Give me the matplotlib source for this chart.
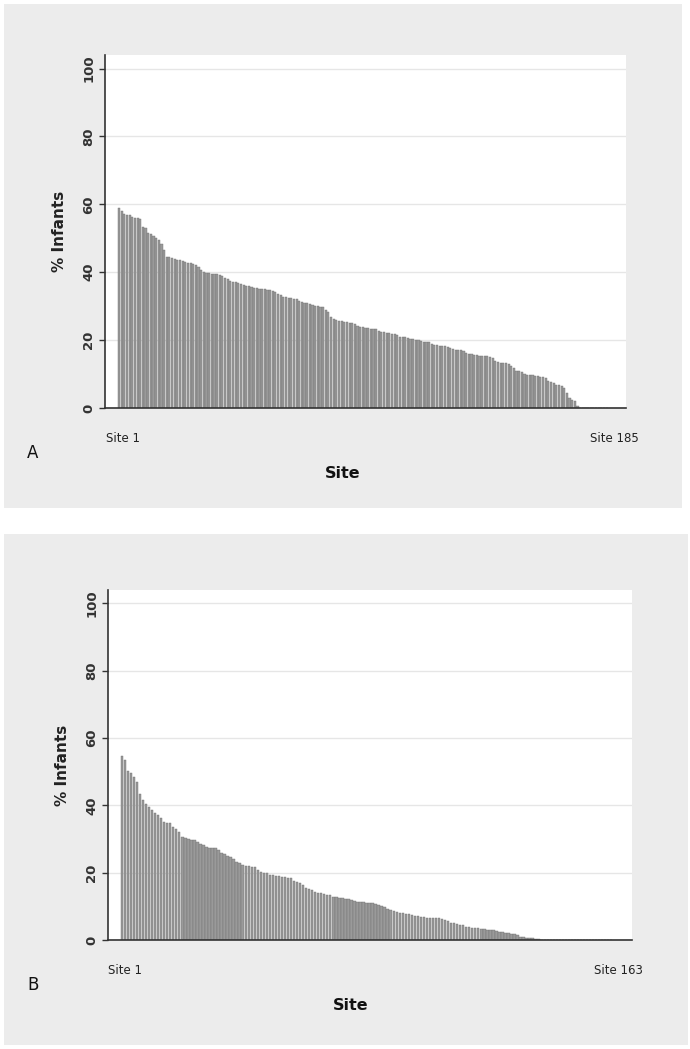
import matplotlib
matplotlib.use('Agg')
import matplotlib.pyplot as plt
import matplotlib.transforms as mtransforms
from matplotlib.patches import Rectangle

# % of infants per site, sorted high to low
pct_a = [59.0, 58.0, 57.3, 57.0, 56.8, 56.2, 56.1, 56.0, 55.6, 53.3,
         52.9, 51.6, 51.2, 50.8, 50.2, 49.5, 48.4, 46.5, 44.6, 44.5,
         44.3, 44.0, 43.7, 43.5, 43.3, 43.1, 42.8, 42.6, 42.4, 42.2,
         41.6, 40.6, 40.2, 39.8, 39.7, 39.6, 39.6, 39.5, 39.2, 38.9,
         38.3, 38.0, 37.5, 37.2, 37.0, 36.8, 36.4, 36.2, 36.0, 35.8,
         35.6, 35.4, 35.3, 35.2, 35.1, 35.0, 34.9, 34.8, 34.5, 34.1,
         33.6, 33.2, 32.8, 32.6, 32.5, 32.3, 32.2, 32.0, 31.6, 31.2,
         31.0, 30.9, 30.7, 30.3, 30.1, 30.0, 29.9, 29.7, 29.0, 28.2,
         26.8, 26.2, 25.9, 25.7, 25.6, 25.4, 25.2, 25.0, 24.9, 24.7,
         24.2, 23.9, 23.8, 23.7, 23.5, 23.4, 23.3, 23.2, 22.7, 22.4,
         22.3, 22.2, 22.0, 21.9, 21.8, 21.4, 21.0, 20.9, 20.8, 20.5,
         20.3, 20.2, 20.1, 20.0, 19.7, 19.5, 19.4, 19.3, 18.9, 18.6,
         18.5, 18.4, 18.3, 18.2, 18.1, 17.6, 17.3, 17.2, 17.1, 17.0,
         16.8, 16.1, 15.9, 15.8, 15.6, 15.5, 15.4, 15.3, 15.3, 15.2,
         15.1, 14.8, 13.8, 13.5, 13.4, 13.3, 13.2, 13.0, 12.4, 11.8,
         11.0, 10.9, 10.7, 10.1, 9.8, 9.7, 9.6, 9.5, 9.4, 9.2,
         9.0, 8.8, 8.0, 7.7, 7.5, 6.9, 6.8, 6.6, 5.8, 4.5,
         3.0, 2.4, 2.0, 0.6] + [0.0] * 11

pct_b = [54.7, 53.4, 50.2, 49.6, 48.5, 47.0, 43.5, 41.5, 40.4, 39.4,
         38.6, 37.8, 37.1, 36.4, 35.1, 34.9, 34.8, 33.6, 33.1, 32.1,
         30.7, 30.3, 30.0, 29.8, 29.7, 29.0, 28.5, 28.2, 27.6, 27.4,
         27.3, 27.2, 26.6, 25.9, 25.5, 25.1, 24.8, 24.0, 23.2, 22.8,
         22.4, 22.1, 21.9, 21.8, 21.6, 20.8, 20.1, 20.0, 19.8, 19.4,
         19.2, 19.0, 18.9, 18.8, 18.6, 18.5, 18.3, 17.5, 17.2, 16.9,
         16.3, 15.6, 15.2, 14.8, 14.3, 14.1, 13.9, 13.7, 13.5, 13.4,
         12.9, 12.8, 12.6, 12.4, 12.2, 12.1, 12.0, 11.5, 11.4, 11.3,
         11.2, 11.1, 11.0, 10.9, 10.7, 10.4, 10.0, 9.7, 9.3, 9.0,
         8.6, 8.3, 8.0, 7.9, 7.8, 7.6, 7.4, 7.2, 7.1, 6.8,
         6.7, 6.6, 6.5, 6.5, 6.4, 6.4, 6.2, 5.9, 5.5, 5.2,
         5.0, 4.8, 4.6, 4.4, 3.9, 3.8, 3.7, 3.6, 3.5, 3.4,
         3.2, 3.1, 3.0, 2.9, 2.7, 2.5, 2.3, 2.1, 2.0, 1.8,
         1.7, 1.5, 0.9, 0.8, 0.7, 0.5, 0.5, 0.4, 0.3] + [0.0] * 24

y_ticks = [0, 20, 40, 60, 80, 100]

W, H = 690, 1049
fig = plt.figure(figsize=(W / 100, H / 100), dpi=100)


def px_rect(x0, y0, x1, y1):
    # pixel box (top-left origin) -> figure fraction [l, b, w, h]
    return [x0 / W, 1 - y1 / H, (x1 - x0) / W, (y1 - y0) / H]


# light grey panel backgrounds, kept under the axes
for box in [(4, 4, 682, 508), (4, 534, 688, 1045)]:
    l, b, w, h = px_rect(*box)
    fig.patches.append(Rectangle((l, b), w, h, transform=fig.transFigure,
                                 facecolor='#ececec', edgecolor='none', zorder=-5))


def panel(rect, values, xlim, letter, letter_pos, xlabel_x, lab_shift):
    ax = fig.add_axes(px_rect(*rect))
    ax.set_zorder(2)
    n = len(values)
    sites = list(range(1, n + 1))
    ax.bar(sites, values, width=0.8, color='#9a9a9a', edgecolor='#707070',
           linewidth=0.3, zorder=2)
    ax.set_xlim(*xlim)
    ax.set_ylim(0, 104)
    ax.set_yticks(y_ticks)
    ax.set_yticklabels([str(t) for t in y_ticks], rotation=90, va='center',
                       fontsize=9.5, fontweight='bold', color='#333333')
    ax.yaxis.grid(True, color='#e6e6e6', linewidth=1.0, zorder=0)
    ax.set_axisbelow(True)
    ax.tick_params(axis='y', length=4, width=1, color='#333333', pad=3)
    ax.set_xticks([1, n])
    ax.set_xticklabels(['Site 1', 'Site %d' % n], fontsize=8.5, color='#222222')
    ax.tick_params(axis='x', length=0, pad=17)
    # nudge the two site labels to where the original puts them
    for lab, dx in zip(ax.get_xticklabels(), lab_shift):
        off = mtransforms.ScaledTranslation(dx / 100, 0, fig.dpi_scale_trans)
        lab.set_transform(lab.get_transform() + off)
    for s in ['top', 'right']:
        ax.spines[s].set_visible(False)
    ax.spines['left'].set_color('#333333')
    ax.spines['left'].set_linewidth(1.2)
    ax.spines['bottom'].set_color('#333333')
    ax.spines['bottom'].set_linewidth(1.2)
    ax.set_ylabel('% Infants', fontsize=11, fontweight='bold', color='#222222')
    ax.yaxis.set_label_coords(-0.072, 0.5)
    ax.set_xlabel('Site', fontsize=11.5, fontweight='bold', color='#111111')
    ax.xaxis.set_label_coords(xlabel_x, -0.165)
    fig.text(letter_pos[0] / W, 1 - letter_pos[1] / H, letter,
             fontsize=12, ha='center', va='center', color='#111111')
    return ax


panel((105, 55, 626, 408), pct_a, (-4.3, 192.3), 'A', (33, 453), 0.457, (4, 8))
panel((108, 590, 632, 940), pct_b, (-3.6, 169.9), 'B', (33, 985), 0.463, (3, 7))

fig.savefig('out.png', dpi=100)
